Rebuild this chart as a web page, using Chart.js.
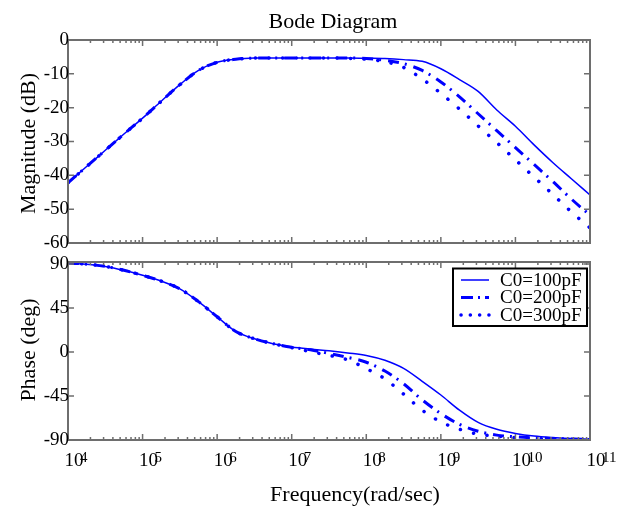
<!DOCTYPE html>
<html>
<head>
<meta charset="utf-8">
<script src="https://cdn.jsdelivr.net/npm/chart.js@4.4.1/dist/chart.umd.min.js"></script>
<style>
  body { margin: 0; background: #ffffff; }
  #wrap { position: relative; width: 621px; height: 506px; }
  canvas { position: absolute; left: 0; top: 0; }
</style>
</head>
<body>
<div id="wrap">
  <canvas id="magChart" width="621" height="506"></canvas>
  <canvas id="phaseChart" width="621" height="506"></canvas>
</div>
<script>
// frequências (rad/s), quartos de década
var frequencies = [1e4, 1.778e4, 3.162e4, 5.623e4, 1e5, 1.778e5, 3.162e5, 5.623e5,
    1e6, 1.778e6, 3.162e6, 5.623e6, 1e7, 1.778e7, 3.162e7, 5.623e7,
    1e8, 1.778e8, 3.162e8, 5.623e8, 1e9, 1.778e9, 3.162e9, 5.623e9,
    1e10, 1.778e10, 3.162e10, 5.623e10, 1e11];

var seriesLabels = ['C0=100pF', 'C0=200pF', 'C0=300pF'];

// magnitude (dB)
var magnitude100 = [-42.2, -37.4, -32.6, -27.8, -23.1, -18.1, -13.2, -9.0,
    -6.6, -5.7, -5.35, -5.3, -5.3, -5.3, -5.3, -5.3,
    -5.4, -5.5, -5.8, -6.3, -8.5, -11.7, -15.2, -20.7,
    -25.5, -31.0, -36.2, -41.0, -45.8];
var magnitude200 = [-42.2, -37.4, -32.6, -27.8, -23.1, -18.1, -13.2, -9.0,
    -6.6, -5.7, -5.35, -5.3, -5.3, -5.3, -5.3, -5.3,
    -5.5, -6.0, -7.0, -9.0, -12.4, -16.8, -21.8, -26.8,
    -31.8, -36.8, -41.8, -47.0, -51.8];
var magnitude300 = [-42.2, -37.4, -32.6, -27.8, -23.1, -18.1, -13.2, -9.0,
    -6.6, -5.7, -5.35, -5.3, -5.3, -5.3, -5.3, -5.4,
    -5.7, -6.4, -8.1, -11.5, -15.8, -20.4, -25.4, -30.3,
    -35.4, -40.5, -45.6, -50.8, -55.5];

// fase (graus)
var phase100 = [90.9, 89.8, 87.5, 83.5, 78.4, 72.5, 64.5, 51.5,
    36.0, 21.0, 13.5, 8.5, 5.2, 3.0, 1.2, -1.0,
    -3.5, -8.5, -16.8, -30.0, -44.0, -59.5, -72.0, -79.1,
    -83.3, -86.0, -87.5, -88.5, -89.3];
var phase200 = [90.9, 89.8, 87.5, 83.5, 78.4, 72.5, 64.5, 51.5,
    36.0, 21.0, 13.5, 8.5, 4.8, 2.2, -1.5, -5.5,
    -10.5, -19.5, -32.5, -49.0, -63.0, -74.0, -81.0, -85.0,
    -86.8, -87.8, -88.5, -89.0, -89.5];
var phase300 = [90.9, 89.8, 87.5, 83.5, 78.4, 72.5, 64.5, 51.5,
    36.0, 21.0, 13.5, 8.5, 4.5, 0.3, -3.5, -8.0,
    -17.0, -27.5, -43.0, -59.5, -71.5, -79.0, -84.0, -86.0,
    -87.5, -88.3, -89.0, -89.3, -89.6];

// ticks
var magTicks = [0, -10, -20, -30, -40, -50, -60];
var phaseTicks = [90, 45, 0, -45, -90];
var decadeExponents = [4, 5, 6, 7, 8, 9, 10, 11];

var serif = '"Liberation Serif", "Times New Roman", serif';
var frameColor = '#6e6e6e';
var lineBlue = '#0000ff';

function toPoints(xs, ys) {
    return xs.map(function(x, i) { return {x: x, y: ys[i]}; });
}

function makeDatasets(values) {
    return [{
        label: seriesLabels[0],
        data: toPoints(frequencies, values[0]),
        borderColor: lineBlue,
        borderWidth: 1.5
    }, {
        label: seriesLabels[1],
        data: toPoints(frequencies, values[1]),
        borderColor: lineBlue,
        borderWidth: 3,
        borderDash: [11, 6, 2, 7],
        borderCapStyle: 'butt'
    }, {
        label: seriesLabels[2],
        data: toPoints(frequencies, values[2]),
        borderColor: lineBlue,
        borderWidth: 3.5,
        borderDash: [0.1, 13.5],
        borderCapStyle: 'round'
    }];
}

// caixa estilo MATLAB com ticks para dentro
var boxPlugin = {
    id: 'matlabBox',
    afterDatasetsDraw: function(chart, args, opts) {
        var ctx = chart.ctx;
        var a = chart.chartArea;
        var xs = chart.scales.x;
        var ys = chart.scales.y;
        ctx.save();
        ctx.strokeStyle = frameColor;
        ctx.lineWidth = 1.5;
        ctx.beginPath();
        decadeExponents.forEach(function(e) {
            for (var m = 1; m <= 9; m++) {
                var v = m * Math.pow(10, e);
                if (v > xs.max) break;
                var px = xs.getPixelForValue(v);
                var len = m === 1 ? 6 : 3;
                ctx.moveTo(px, a.bottom); ctx.lineTo(px, a.bottom - len);
                ctx.moveTo(px, a.top); ctx.lineTo(px, a.top + len);
            }
        });
        opts.yTicks.forEach(function(v) {
            var py = ys.getPixelForValue(v);
            ctx.moveTo(a.left, py); ctx.lineTo(a.left + 6, py);
            ctx.moveTo(a.right, py); ctx.lineTo(a.right - 6, py);
        });
        ctx.stroke();
        ctx.lineWidth = 2;
        ctx.strokeRect(a.left, a.top, a.right - a.left, a.bottom - a.top);

        // rótulos do eixo y
        ctx.fillStyle = '#000';
        ctx.font = '19px ' + serif;
        ctx.textAlign = 'right';
        ctx.textBaseline = 'middle';
        opts.yTicks.forEach(function(v) {
            ctx.fillText(String(v), a.left + 1, ys.getPixelForValue(v));
        });

        // título do eixo y
        ctx.font = '22px ' + serif;
        ctx.textAlign = 'center';
        ctx.textBaseline = 'alphabetic';
        ctx.save();
        ctx.translate(35, (a.top + a.bottom) / 2 + opts.yTitleShift);
        ctx.rotate(-Math.PI / 2);
        ctx.fillText(opts.yTitle, 0, 0);
        ctx.restore();

        if (opts.title) {
            ctx.fillText(opts.title, 333, 28);
        }

        if (opts.xLabels) {
            decadeExponents.forEach(function(e) {
                var px = xs.getPixelForValue(Math.pow(10, e));
                ctx.textAlign = 'left';
                ctx.font = '19px ' + serif;
                ctx.fillText('10', px - 3.5, 466);
                ctx.font = '15px ' + serif;
                ctx.fillText(String(e), px + 12, 462);
            });
            ctx.font = '22px ' + serif;
            ctx.textAlign = 'center';
            ctx.fillText('Frequency(rad/sec)', 355, 501);
        }

        if (opts.legend) {
            var box = {left: 453, top: 268.5, right: 587, bottom: 326};
            ctx.fillStyle = '#fff';
            ctx.fillRect(box.left, box.top, box.right - box.left, box.bottom - box.top);
            ctx.strokeStyle = '#000';
            ctx.lineWidth = 2;
            ctx.strokeRect(box.left, box.top, box.right - box.left, box.bottom - box.top);
            var rows = [280, 297.5, 315];
            var legendDash = [[], [12, 5, 2, 5], [0.1, 9.2]];
            chart.data.datasets.forEach(function(ds, i) {
                ctx.save();
                ctx.strokeStyle = ds.borderColor;
                ctx.lineWidth = ds.borderWidth;
                ctx.lineCap = ds.borderCapStyle || 'butt';
                ctx.setLineDash(legendDash[i]);
                ctx.beginPath();
                ctx.moveTo(461, rows[i]);
                ctx.lineTo(489, rows[i]);
                ctx.stroke();
                ctx.restore();
                ctx.fillStyle = '#000';
                ctx.font = '19px ' + serif;
                ctx.textAlign = 'left';
                ctx.textBaseline = 'middle';
                ctx.fillText(ds.label, 500, rows[i] + 1);
            });
        }
        ctx.restore();
    }
};

function baseOptions(padding, yMin, yMax, boxOpts) {
    return {
        responsive: false,
        maintainAspectRatio: false,
        animation: false,
        layout: {padding: padding},
        elements: {
            point: {radius: 0},
            line: {cubicInterpolationMode: 'monotone'}
        },
        scales: {
            x: {type: 'logarithmic', min: 1e4, max: 1e11, display: false},
            y: {min: yMin, max: yMax, display: false}
        },
        plugins: {
            legend: {display: false},
            tooltip: {enabled: false},
            matlabBox: boxOpts
        }
    };
}

// Gráfico de magnitude
var magChart = new Chart(document.getElementById('magChart').getContext('2d'), {
    type: 'line',
    data: {datasets: makeDatasets([magnitude100, magnitude200, magnitude300])},
    options: baseOptions({left: 68, right: 31, top: 40, bottom: 263}, -60, 0,
        {yTicks: magTicks, yTitle: 'Magnitude (dB)', yTitleShift: 2, title: 'Bode Diagram'}),
    plugins: [boxPlugin]
});

// Gráfico de fase
var phaseChart = new Chart(document.getElementById('phaseChart').getContext('2d'), {
    type: 'line',
    data: {datasets: makeDatasets([phase100, phase200, phase300])},
    options: baseOptions({left: 68, right: 31, top: 262, bottom: 66}, -90, 92,
        {yTicks: phaseTicks, yTitle: 'Phase (deg)', yTitleShift: -1, xLabels: true, legend: true}),
    plugins: [boxPlugin]
});
</script>
</body>
</html>
